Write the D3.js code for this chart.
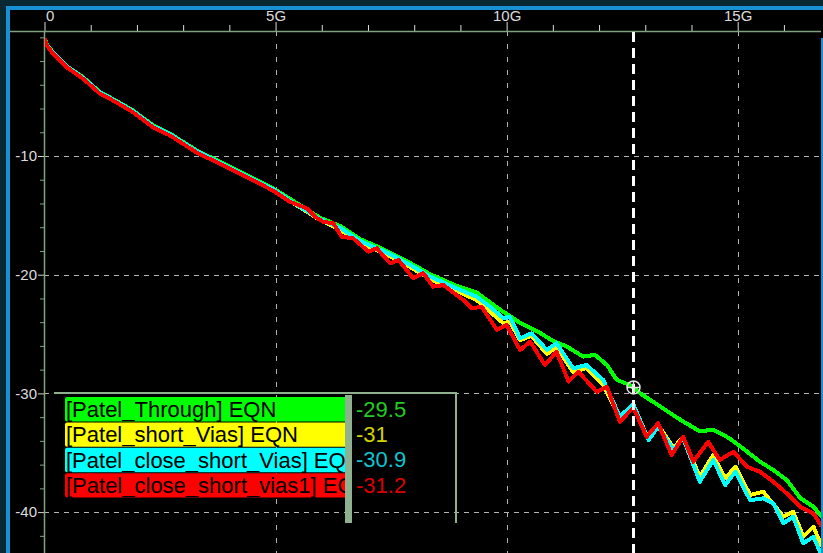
<!DOCTYPE html>
<html>
<head>
<meta charset="utf-8">
<script src="https://cdn.jsdelivr.net/npm/d3@7/dist/d3.min.js"></script>
<style>
  html, body { margin: 0; padding: 0; background: #0a2832; }
  svg { display: block; }
  text { font-family: "Liberation Sans", Arial, sans-serif; }
</style>
</head>
<body>
<svg id="chart" width="823" height="553"></svg>
<script>
// Insertion loss traces, [frequency GHz, dB]
const throughData = [
  [0,-0.05],[0.05,-0.6],[0.19,-1.3],[0.48,-2.42],[0.84,-3.38],[1.2,-4.62],[1.48,-5.2],
  [1.92,-6.18],[2.35,-7.42],[2.72,-8.12],[3.0,-8.82],[3.29,-9.52],[3.58,-10.08],[3.94,-10.78],
  [4.38,-11.62],[4.95,-12.74],[5.31,-13.6],[5.96,-15.2],[6.4,-15.9],[6.83,-17.0],[7.33,-17.85],
  [7.84,-18.85],[8.34,-19.95],[8.92,-20.95],[9.35,-21.5],[9.86,-22.95],[10.29,-24.05],
  [10.72,-24.9],[11.01,-25.6],[11.3,-26.05],[11.66,-26.9],[11.91,-26.75],[12.17,-27.6],
  [12.38,-28.85],[12.67,-29.3],[12.74,-29.5],[12.89,-29.99],[13.32,-31.1],[13.75,-32.2],
  [14.18,-33.2],[14.47,-33.05],[14.83,-33.8],[15.2,-34.9],[15.48,-35.75],[15.77,-36.45],
  [16.06,-37.3],[16.35,-38.8],[16.64,-39.55],[16.82,-40.4]
];
const shortViasData = [
  [0,-0.08],[0.05,-0.66],[0.19,-1.36],[0.48,-2.48],[0.84,-3.45],[1.2,-4.7],[1.48,-5.27],
  [1.92,-6.26],[2.35,-7.52],[2.72,-8.22],[3.0,-8.92],[3.29,-9.63],[3.58,-10.18],[3.94,-10.9],
  [4.38,-11.74],[4.95,-12.86],[5.31,-13.79],[5.96,-15.39],[6.4,-16.23],[6.83,-17.33],
  [7.33,-18.17],[7.84,-19.18],[8.34,-20.36],[8.92,-21.37],[9.35,-22.13],[9.64,-23.12],
  [9.93,-24.09],[10.07,-23.96],[10.29,-25.5],[10.54,-25.16],[10.87,-26.68],[11.08,-26.09],
  [11.44,-28.2],[11.73,-27.86],[12.09,-29.29],[12.45,-32.07],[12.74,-31.0],[13.07,-33.84],
  [13.28,-32.66],[13.61,-34.6],[13.82,-33.67],[14.18,-37.04],[14.47,-35.19],[14.73,-37.15],
  [14.95,-36.18],[15.27,-38.56],[15.55,-38.28],[15.99,-40.39],[16.2,-39.97],[16.42,-42.07],
  [16.64,-41.23],[16.82,-42.91]
];
const closeShortViasData = [
  [0,-0.06],[0.05,-0.63],[0.19,-1.33],[0.48,-2.45],[0.84,-3.42],[1.2,-4.66],[1.48,-5.24],
  [1.92,-6.22],[2.35,-7.48],[2.72,-8.18],[3.0,-8.88],[3.29,-9.58],[3.58,-10.14],[3.94,-10.85],
  [4.38,-11.7],[4.95,-12.8],[5.31,-13.75],[5.96,-15.31],[6.4,-16.06],[6.83,-17.16],[7.33,-18.0],
  [7.84,-19.01],[8.34,-20.15],[8.92,-21.15],[9.35,-21.85],[9.64,-22.7],[9.93,-23.67],
  [10.07,-23.54],[10.29,-25.36],[10.54,-24.94],[10.87,-26.34],[11.08,-25.78],[11.44,-27.89],
  [11.73,-27.61],[12.09,-28.87],[12.45,-31.96],[12.74,-30.9],[13.07,-33.93],[13.28,-32.8],
  [13.61,-34.77],[13.82,-33.78],[14.18,-37.44],[14.47,-35.61],[14.73,-37.72],[14.95,-36.6],
  [15.27,-39.0],[15.55,-38.84],[15.77,-39.26],[15.99,-40.94],[16.2,-40.39],[16.42,-42.63],
  [16.64,-42.07],[16.82,-43.7]
];
const closeShortVias1Data = [
  [0,-0.1],[0.05,-0.7],[0.19,-1.4],[0.48,-2.52],[0.84,-3.5],[1.2,-4.76],[1.48,-5.32],
  [1.92,-6.32],[2.35,-7.58],[2.72,-8.28],[3.0,-8.98],[3.29,-9.7],[3.58,-10.25],[3.94,-10.95],
  [4.38,-11.8],[4.95,-12.92],[5.31,-13.85],[5.67,-14.41],[5.85,-15.11],[6.03,-15.54],
  [6.25,-15.67],[6.43,-16.8],[6.68,-16.93],[7.01,-18.06],[7.19,-17.78],[7.48,-19.04],
  [7.66,-18.76],[7.98,-20.3],[8.2,-19.88],[8.41,-21.01],[8.63,-20.87],[9.06,-22.13],
  [9.24,-22.83],[9.46,-22.7],[9.79,-24.66],[10.0,-24.24],[10.29,-26.34],[10.51,-25.64],
  [10.83,-27.61],[11.08,-26.49],[11.34,-29.01],[11.55,-28.17],[11.95,-29.86],[12.17,-29.44],
  [12.45,-32.38],[12.74,-31.2],[13.03,-33.65],[13.28,-32.52],[13.57,-35.19],[13.82,-33.65],
  [14.04,-35.75],[14.36,-34.07],[14.61,-35.61],[14.91,-34.91],[15.2,-36.18],[15.48,-36.6],
  [15.77,-37.44],[16.06,-38.42],[16.35,-39.54],[16.64,-40.1],[16.82,-41.23]
];

const seriesNames = ["[Patel_Through] EQN", "[Patel_short_Vias] EQN",
                     "[Patel_close_short_Vias] EQN", "[Patel_close_short_vias1] EQN"];
const seriesColors = ["#00ff00", "#ffff00", "#00ffff", "#ff0000"];
const valueColors = ["#22cc22", "#d2d200", "#10c4d2", "#dd0000"];
const markerValues = ["-29.5", "-31", "-30.9", "-31.2"];
const markerFreq = 12.74;
const markerDb = -29.5;

const xTickValues = [0, 5, 10, 15];
const xTickLabels = ["0", "5G", "10G", "15G"];
const xMinorTicks = [1, 2, 3, 4, 6, 7, 8, 9, 11, 12, 13, 14, 16];
const yTickValues = [-10, -20, -30, -40];
const yTickLabels = ["-10", "-20", "-30", "-40"];
const yMinorTicks = [0, -2, -4, -6, -8, -12, -14, -16, -18, -22, -24, -26, -28,
                     -32, -34, -36, -38, -42];

const seriesData = [throughData, shortViasData, closeShortViasData, closeShortVias1Data];

const svg = d3.select("#chart");
const W = 823, H = 553;

// frame: blue border and black plotting field
svg.append("rect").attr("x", 0).attr("y", 0).attr("width", W).attr("height", H).attr("fill", "#0a2832");
svg.append("rect").attr("x", 6).attr("y", 6).attr("width", W - 6).attr("height", H - 6).attr("fill", "#1790d4");
svg.append("rect").attr("x", 10).attr("y", 10).attr("width", W - 10).attr("height", H - 10).attr("fill", "#000");
svg.append("rect").attr("x", 821).attr("y", 38).attr("width", 2).attr("height", H - 38).attr("fill", "#1790d4");

const x = d3.scaleLinear().domain([0, 15]).range([44.5, 737.7]);
const y = d3.scaleLinear().domain([0, -40]).range([37.3, 512.1]);

const axisTop = 31, axisLeft = 44;
const plotRight = 821, plotBottom = H;

// grid
const grid = svg.append("g").attr("stroke", "#b4b4b4").attr("stroke-width", 1);
grid.selectAll("line.h").data(yTickValues).join("line")
  .attr("x1", axisLeft).attr("x2", plotRight)
  .attr("y1", d => Math.round(y(d)) + 0.5).attr("y2", d => Math.round(y(d)) + 0.5)
  .attr("stroke-dasharray", "5,5");
grid.selectAll("line.v").data(xTickValues.filter(d => d > 0)).join("line")
  .attr("y1", axisTop).attr("y2", plotBottom)
  .attr("x1", d => Math.round(x(d)) + 0.5).attr("x2", d => Math.round(x(d)) + 0.5)
  .attr("stroke-dasharray", "5,8");

// axes
const axisColor = "#7fa37f";
const tickColor = "#dcdcdc";
const topAxis = d3.axisTop(x).tickValues(xTickValues).tickFormat((d, i) => xTickLabels[i])
  .tickSize(9).tickSizeOuter(0);
const gTop = svg.append("g").attr("transform", `translate(0,${axisTop})`).call(topAxis);
gTop.select(".domain").remove();
gTop.selectAll(".tick line").attr("stroke", tickColor);
gTop.selectAll(".tick text").attr("fill", "#dcdcdc").attr("font-size", 15)
  .attr("font-family", "Liberation Sans, Arial, sans-serif").attr("y", -10)
  .attr("text-anchor", (d, i) => i === 0 ? "start" : "middle")
  .attr("dx", (d, i) => i === 0 ? 1 : 0);
svg.append("g").attr("transform", `translate(0,${axisTop})`)
  .call(d3.axisTop(x).tickValues(xMinorTicks).tickFormat("").tickSize(6).tickSizeOuter(0))
  .call(g => g.select(".domain").remove())
  .selectAll(".tick line").attr("stroke", tickColor);
svg.append("line").attr("x1", 10).attr("x2", plotRight).attr("y1", axisTop + 0.5).attr("y2", axisTop + 0.5)
  .attr("stroke", axisColor).attr("stroke-width", 1.5);

const leftAxis = d3.axisLeft(y).tickValues(yTickValues).tickFormat((d, i) => yTickLabels[i])
  .tickSize(6).tickSizeOuter(0);
const gLeft = svg.append("g").attr("transform", `translate(${axisLeft},0)`).call(leftAxis);
gLeft.select(".domain").remove();
gLeft.selectAll(".tick line").attr("stroke", "#cfd8cf");
gLeft.selectAll(".tick text").attr("fill", "#dcdcdc").attr("font-size", 15)
  .attr("font-family", "Liberation Sans, Arial, sans-serif").attr("x", -7);
svg.append("g").attr("transform", `translate(${axisLeft},0)`)
  .call(d3.axisLeft(y).tickValues(yMinorTicks).tickFormat("").tickSize(4).tickSizeOuter(0))
  .call(g => g.select(".domain").remove())
  .selectAll(".tick line").attr("stroke", axisColor);
svg.append("line").attr("x1", axisLeft + 0.5).attr("x2", axisLeft + 0.5).attr("y1", axisTop).attr("y2", plotBottom)
  .attr("stroke", axisColor).attr("stroke-width", 1.5);

// traces, drawn aliased like an instrument display
svg.append("clipPath").attr("id", "plotClip").append("rect")
  .attr("x", axisLeft + 1).attr("y", axisTop + 1).attr("width", plotRight - axisLeft - 1).attr("height", plotBottom - axisTop);
const line = d3.line().x(d => x(d[0])).y(d => y(d[1]));
svg.append("g").attr("clip-path", "url(#plotClip)")
  .selectAll("path").data(seriesData).join("path")
  .attr("d", line).attr("fill", "none")
  .attr("stroke", (d, i) => seriesColors[i]).attr("stroke-width", 4)
  .attr("stroke-linejoin", "round").attr("shape-rendering", "crispEdges");

// marker line and cursor
const mx = Math.round(x(markerFreq)) + 0.5;
svg.append("line").attr("x1", mx).attr("x2", mx).attr("y1", axisTop + 1).attr("y2", plotBottom)
  .attr("stroke", "#ffffff").attr("stroke-width", 3).attr("stroke-dasharray", "10,6");
const my = y(markerDb);
const cursor = svg.append("g").attr("stroke", "#e6e6e6").attr("stroke-width", 1.5).attr("fill", "none");
cursor.append("circle").attr("cx", mx).attr("cy", my).attr("r", 6.5);
cursor.append("line").attr("x1", mx - 6.5).attr("x2", mx + 6.5).attr("y1", my).attr("y2", my);
cursor.append("line").attr("x1", mx).attr("x2", mx).attr("y1", my - 6.5).attr("y2", my + 6.5);

// legend
const legendColor = "#8fb18f";
const lg = svg.append("g");
lg.append("line").attr("x1", 54).attr("x2", 457).attr("y1", 393).attr("y2", 393)
  .attr("stroke", legendColor).attr("stroke-width", 2);
lg.append("line").attr("x1", 456).attr("x2", 456).attr("y1", 392).attr("y2", 523)
  .attr("stroke", legendColor).attr("stroke-width", 2);
svg.append("clipPath").attr("id", "legendClip").append("rect")
  .attr("x", 60).attr("y", 390).attr("width", 285).attr("height", 120);
const rowTop = 397, rowStep = 25.4, rowH = 24.4;
const rows = lg.append("g").attr("clip-path", "url(#legendClip)");
rows.selectAll("rect").data(seriesNames).join("rect")
  .attr("x", 65).attr("y", (d, i) => rowTop + i * rowStep).attr("width", 290).attr("height", rowH)
  .attr("rx", 2).attr("fill", (d, i) => seriesColors[i]);
rows.selectAll("text").data(seriesNames).join("text")
  .attr("x", 66).attr("y", (d, i) => rowTop + i * rowStep + 20)
  .attr("font-size", 22).attr("fill", "#000").text(d => d);
lg.append("rect").attr("x", 345).attr("y", 395).attr("width", 7).attr("height", 128).attr("fill", legendColor);
lg.selectAll("text.val").data(markerValues).join("text").attr("class", "val")
  .attr("x", 356).attr("y", (d, i) => rowTop + i * rowStep + 19.5)
  .attr("font-size", 22).attr("fill", (d, i) => valueColors[i]).text(d => d);
</script>
</body>
</html>
